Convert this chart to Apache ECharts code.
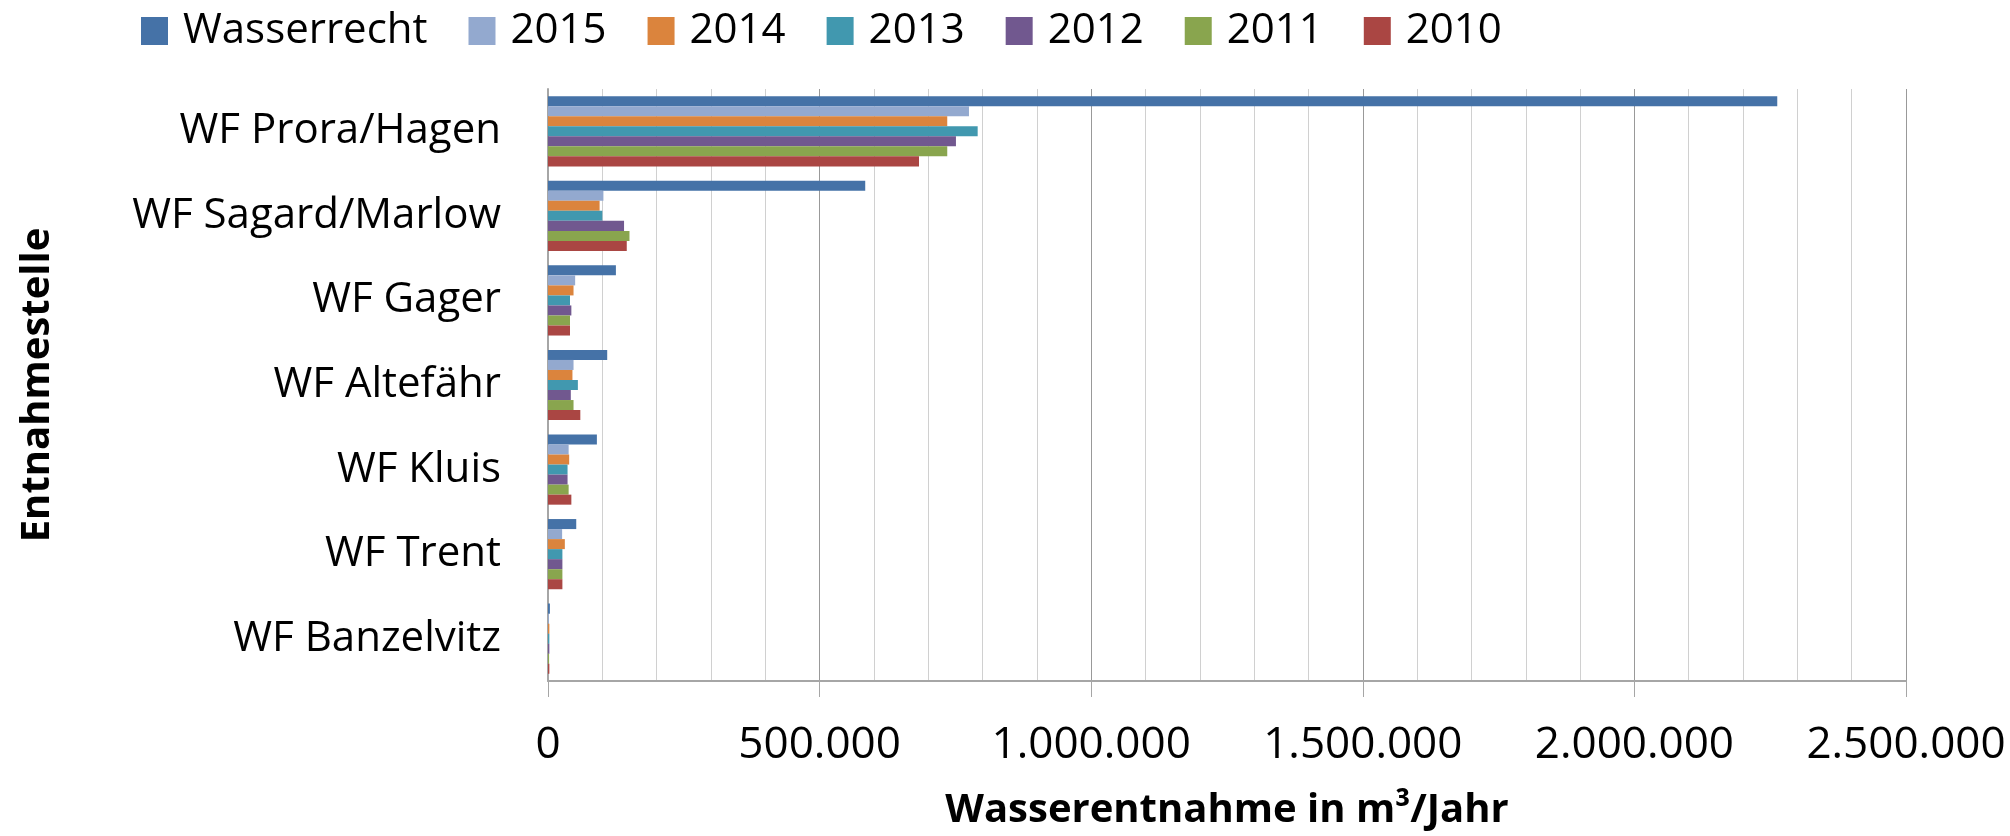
<!DOCTYPE html>
<html>
<head>
<meta charset="utf-8">
<script src="https://cdn.jsdelivr.net/npm/echarts@6/dist/echarts.min.js"></script>
<style>
html,body{margin:0;padding:0;background:#fff;}
#chart{width:2010px;height:836px;}
</style>
</head>
<body>
<div id="chart"></div>
<script>
const categories = ['WF Prora/Hagen','WF Sagard/Marlow','WF Gager','WF Altefähr','WF Kluis','WF Trent','WF Banzelvitz'];
const seriesNames = ['Wasserrecht','2015','2014','2013','2012','2011','2010'];
const wasserrecht = [2263000, 584000, 125000, 109000, 90000, 52000, 3500];
const y2015 = [775000, 102000, 50000, 47000, 38000, 26000, 1500];
const y2014 = [735000, 95000, 47000, 45000, 39000, 31000, 2500];
const y2013 = [791000, 100000, 40500, 55000, 36000, 26500, 2500];
const y2012 = [751000, 140000, 43000, 42000, 36000, 26500, 2500];
const y2011 = [735000, 150000, 40500, 47000, 38000, 26500, 2000];
const y2010 = [683000, 145000, 40500, 59500, 43000, 26500, 2500];
const colors = ['#4572A7','#93A9CF','#DB843D','#4198AF','#71588F','#89A54E','#AA4643'];

const seriesData = [wasserrecht, y2015, y2014, y2013, y2012, y2011, y2010];
const FONT = 'Open Sans';

function fmt(v){
  return String(Math.round(v)).replace(/\B(?=(\d{3})+(?!\d))/g, '.');
}

const chart = echarts.init(document.getElementById('chart'), null, {renderer:'canvas'});
chart.setOption({
  animation: false,
  backgroundColor: '#ffffff',
  color: colors,
  legend: {
    left: 136,
    top: 5,
    itemWidth: 27,
    itemHeight: 28,
    itemGap: 41,
    icon: 'rect',
    textStyle: {fontFamily: FONT, fontSize: 42, color: '#000', padding: [0,0,0,10]},
    data: seriesNames
  },
  grid: {left: 548, right: 104, top: 89, bottom: 145, containLabel: false},
  xAxis: {
    type: 'value',
    min: 0, max: 2500000, interval: 500000,
    name: 'Wasserentnahme in m³/Jahr',
    nameLocation: 'middle',
    nameGap: 110,
    nameTextStyle: {fontFamily: FONT, fontSize: 40, fontWeight: 'bold', color: '#000'},
    axisLine: {show: true, lineStyle: {color: '#a6a6a6', width: 2}},
    axisTick: {show: true, length: 16, lineStyle: {color: '#a6a6a6', width: 1}},
    axisLabel: {fontFamily: FONT, fontSize: 44, color: '#000', margin: 42, formatter: fmt},
    splitLine: {show: true, lineStyle: {color: '#999999', width: 1}},
    minorTick: {show: false, splitNumber: 5},
    minorSplitLine: {show: true, lineStyle: {color: '#d0d0d0', width: 1}}
  },
  yAxis: {
    type: 'category',
    inverse: true,
    data: categories,
    name: 'Entnahmestelle',
    nameLocation: 'middle',
    nameGap: 490,
    nameRotate: 90,
    nameTextStyle: {fontFamily: FONT, fontSize: 40, fontWeight: 'bold', color: '#000'},
    axisLine: {show: true, lineStyle: {color: '#a6a6a6', width: 2}},
    axisTick: {show: false},
    axisLabel: {fontFamily: FONT, fontSize: 42, color: '#000', margin: 47},
    splitLine: {show: false}
  },
  series: seriesNames.map((n, i) => ({
    name: n,
    type: 'bar',
    data: seriesData[i],
    barGap: '0%',
    barCategoryGap: '17%',
    itemStyle: {color: colors[i]}
  }))
});
</script>
</body>
</html>
